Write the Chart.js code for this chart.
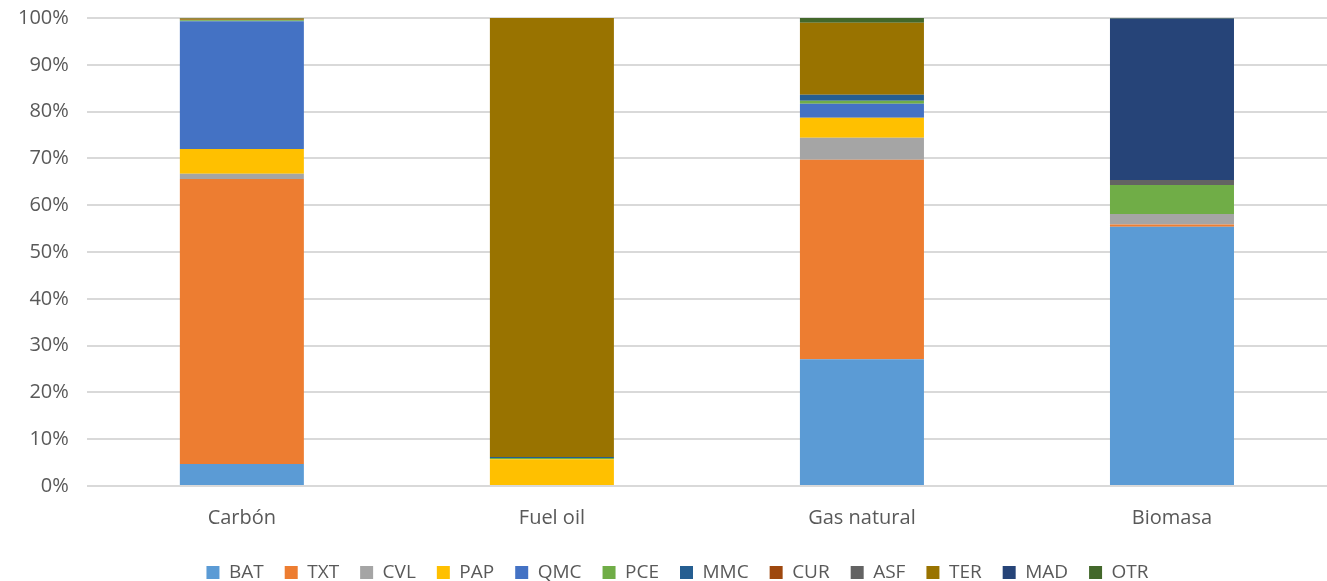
<!DOCTYPE html>
<html>
<head>
<meta charset="utf-8">
<script src="https://cdn.jsdelivr.net/npm/chart.js@4"></script>
<style>
  html, body { margin: 0; padding: 0; background: #fff; overflow: hidden; }
  #wrap { width: 1327px; height: 596px; position: relative; margin-top: -12px; }
</style>
</head>
<body>
<div id="wrap"><canvas id="chart"></canvas></div>
<script>
const categories = ["Carbón", "Fuel oil", "Gas natural", "Biomasa"];
const seriesNames = ["BAT", "TXT", "CVL", "PAP", "QMC", "PCE", "MMC", "CUR", "ASF", "TER", "MAD", "OTR"];
const colors = ["#5B9BD5", "#ED7D31", "#A5A5A5", "#FFC000", "#4472C4", "#70AD47", "#255E91", "#9E480E", "#636363", "#997300", "#264478", "#43682B"];

// percent share per category (Carbón, Fuel oil, Gas natural, Biomasa)
const BAT = [4.7, 0, 27.1, 55.4];
const TXT = [60.9, 0, 42.6, 0.5];
const CVL = [1.1, 0, 4.7, 2.2];
const PAP = [5.3, 5.7, 4.3, 0];
const QMC = [27.3, 0, 3.0, 0];
const PCE = [0.2, 0.3, 0.6, 6.2];
const MMC = [0.05, 0.2, 1.3, 0];
const CUR = [0.05, 0, 0, 0];
const ASF = [0, 0, 0, 1.1];
const TER = [0.3, 93.8, 15.4, 0];
const MAD = [0, 0, 0, 34.5];
const OTR = [0.1, 0, 1.0, 0.1];
const values = [BAT, TXT, CVL, PAP, QMC, PCE, MMC, CUR, ASF, TER, MAD, OTR];
const yTicks = [0, 10, 20, 30, 40, 50, 60, 70, 80, 90, 100];

const font = "'Open Sans', 'Liberation Sans', sans-serif";

// nudge the legend a bit to the right, as in the original
const legendShift = {
  id: "legendShift",
  afterLayout(chart) {
    chart.legend.left += 14;
    chart.legend.right += 14;
  },
};

new Chart(document.getElementById("chart"), {
  type: "bar",
  data: {
    labels: categories,
    datasets: seriesNames.map((name, i) => ({
      label: name,
      data: values[i],
      backgroundColor: colors[i],
      borderWidth: 0,
      barPercentage: 0.4,
      categoryPercentage: 1.0,
    })),
  },
  options: {
    responsive: true,
    maintainAspectRatio: false,
    animation: false,
    layout: { padding: { top: 0, right: 0, left: 0, bottom: -8 } },
    plugins: {
      tooltip: { enabled: false },
      legend: {
        position: "bottom",
        labels: {
          boxWidth: 13,
          boxHeight: 13,
          padding: 21,
          color: "#595959",
          font: { family: font, size: 19 },
        },
      },
    },
    scales: {
      x: {
        stacked: true,
        grid: { display: false },
        border: { display: false },
        ticks: { color: "#595959", font: { family: font, size: 20 }, padding: 12 },
      },
      y: {
        stacked: true,
        min: 0,
        max: 100,
        afterBuildTicks: (axis) => { axis.ticks = yTicks.map((v) => ({ value: v })); },
        grid: { color: "#D9D9D9", lineWidth: 2, drawTicks: false },
        border: { display: false },
        ticks: {
          color: "#595959",
          font: { family: font, size: 20 },
          padding: 18,
          callback: (v) => v + "%",
        },
      },
    },
  },
  plugins: [legendShift],
});
</script>
</body>
</html>
